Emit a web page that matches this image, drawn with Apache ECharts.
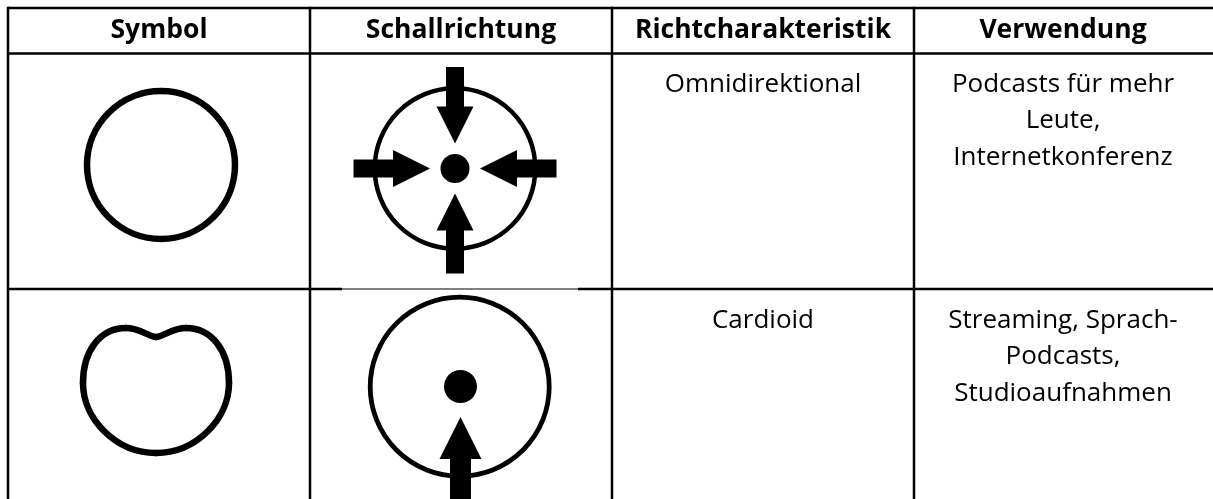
<!DOCTYPE html>
<html>
<head>
<meta charset="utf-8">
<script src="https://cdn.jsdelivr.net/npm/echarts@6/dist/echarts.min.js"></script>
<style>
  html, body { margin: 0; padding: 0; background: #ffffff; }
  #chart { width: 1213px; height: 499px; }
</style>
</head>
<body>
<div id="chart"></div>
<script>
// ---- table content ----
const headers = ['Symbol', 'Schallrichtung', 'Richtcharakteristik', 'Verwendung'];
const characteristics = ['Omnidirektional', 'Cardioid'];
const usages = [
  ['Podcasts für mehr', 'Leute,', 'Internetkonferenz'],
  ['Streaming, Sprach-', 'Podcasts,', 'Studioaufnahmen']
];

// ---- layout ----
const colX = [8, 310, 612, 914, 1216];
const rowY = [8, 53.5, 289, 520];
const LW = 2.5;
const FONT = '"Open Sans", "Noto Sans", sans-serif';
const HEAD_SIZE = 26.5;
const BODY_SIZE = 26;
const LINE_H = 36.5;

const chart = echarts.init(document.getElementById('chart'), null, { renderer: 'canvas' });
const els = [];

function line(x1, y1, x2, y2, w) {
  els.push({ type: 'line', z: 10, shape: { x1, y1, x2, y2 }, style: { stroke: '#000', lineWidth: w || LW } });
}
// grid lines
line(colX[0], rowY[0], colX[4], rowY[0]);
line(colX[0], rowY[1], colX[4], rowY[1]);
line(colX[0], rowY[2], 342, rowY[2]);
line(342, rowY[2], 578, rowY[2], 1.2);
line(578, rowY[2], colX[4], rowY[2]);
for (let i = 0; i < 5; i++) line(colX[i], rowY[0] - LW / 2, colX[i], rowY[3]);

const colC = [159, 461, 763, 1063];
// header texts
headers.forEach((h, i) => {
  els.push({ type: 'text', z: 20, x: colC[i], y: 30.5, style: {
    text: h, fill: '#000', font: 'bold ' + HEAD_SIZE + 'px ' + FONT, textAlign: 'center', textVerticalAlign: 'middle' } });
});
// body texts
const rowTextY = [84.5, 320.5];
characteristics.forEach((c, r) => {
  els.push({ type: 'text', z: 20, x: colC[2], y: rowTextY[r], style: {
    text: c, fill: '#000', font: BODY_SIZE + 'px ' + FONT, textAlign: 'center', textVerticalAlign: 'middle' } });
});
usages.forEach((lines, r) => {
  lines.forEach((t, k) => {
    els.push({ type: 'text', z: 20, x: colC[3], y: rowTextY[r] + k * LINE_H, style: {
      text: t, fill: '#000', font: BODY_SIZE + 'px ' + FONT, textAlign: 'center', textVerticalAlign: 'middle' } });
  });
});

// ---- symbols ----
function ring(cx, cy, r, w) {
  els.push({ type: 'circle', z: 5, shape: { cx, cy, r }, style: { fill: 'none', stroke: '#000', lineWidth: w } });
}
function dot(cx, cy, r) {
  els.push({ type: 'circle', z: 5, shape: { cx, cy, r }, style: { fill: '#000' } });
}
// arrow pointing toward (cx,cy) coming from direction (dx,dy)
function arrow(cx, cy, dx, dy, outer, base, tip, sh, hh) {
  const px = -dy, py = dx;
  const P = (d, s) => [cx + dx * d + px * s, cy + dy * d + py * s];
  els.push({ type: 'polygon', z: 6, shape: { points: [
    P(outer, -sh), P(base, -sh), P(base, -hh), P(tip, 0), P(base, hh), P(base, sh), P(outer, sh)
  ] }, style: { fill: '#000' } });
}

// row 1: omnidirectional symbol
ring(161, 165, 74, 6.5);
// row 1: sound direction
ring(455, 168.5, 80.3, 4.5);
dot(455, 168.5, 14.5);
[[0, -1], [0, 1], [-1, 0], [1, 0]].forEach(([dx, dy]) => {
  arrow(455, 168.5, dx, dy, dy === 1 ? 105 : 101.5, 62, 25, 9, 18.5);
});

// row 2: cardioid symbol (bezier segments)
(function () {
  const cx = 156, cy = 391;
  const segs = [
    [[0, -54], [7, -54], [16, -63], [30, -63]],
    [[30, -63], [56, -63], [73, -40], [73, -8]],
    [[73, -8], [73, 28], [40, 62], [0, 62]]
  ];
  [1, -1].forEach(m => {
    segs.forEach(s => {
      els.push({ type: 'bezierCurve', z: 5, shape: {
        x1: cx + m * s[0][0], y1: cy + s[0][1],
        cpx1: cx + m * s[1][0], cpy1: cy + s[1][1],
        cpx2: cx + m * s[2][0], cpy2: cy + s[2][1],
        x2: cx + m * s[3][0], y2: cy + s[3][1]
      }, style: { fill: 'none', stroke: '#000', lineWidth: 6.5, lineCap: 'round' } });
    });
  });
})();
// row 2: sound direction
ring(459.7, 386.7, 89.5, 4.8);
dot(460.5, 386.5, 16.5);
arrow(460.5, 386.5, 0, 1, 140, 72.5, 30.5, 10.5, 21);

chart.setOption({
  animation: false,
  backgroundColor: '#ffffff',
  graphic: { elements: els }
});
</script>
</body>
</html>
